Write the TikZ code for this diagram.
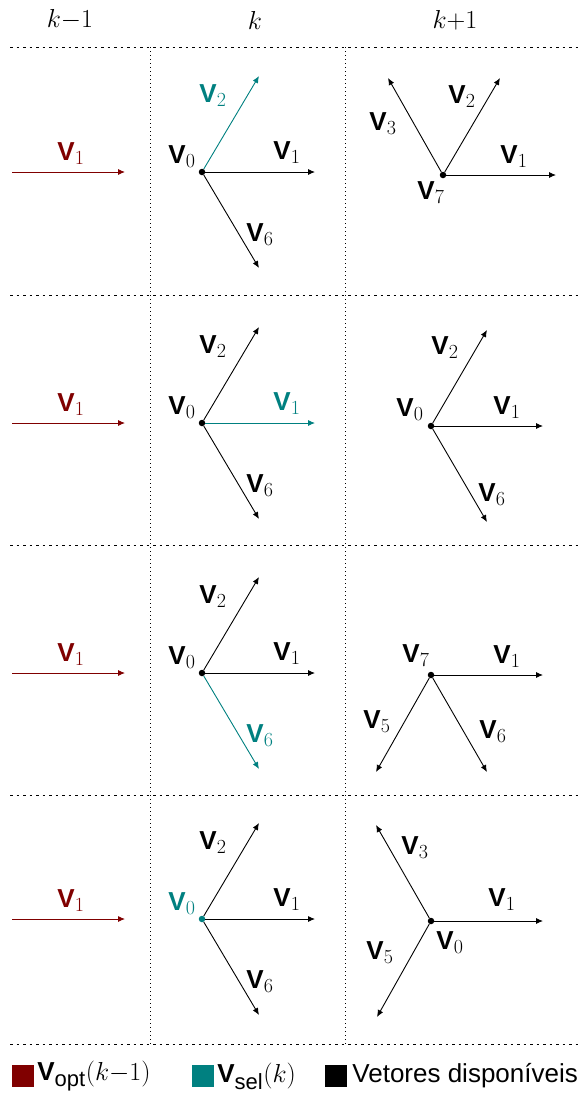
\RequirePackage{fix-cm}
\documentclass[tikz,border=0pt]{standalone}
\usepackage{amsmath}
\usepackage{fontspec}
\setsansfont{Liberation Sans}
\usepackage{tikz}
\usetikzlibrary{arrows.meta,positioning}

\DeclareMathSizes{26}{26}{20}{15}
\definecolor{optred}{HTML}{800000}
\definecolor{selteal}{HTML}{008080}
\newcommand{\vv}[1]{$\textsf{\bfseries V}_{#1}$}
\newcommand{\lsub}[1]{\text{\fontsize{22}{24}\selectfont\sffamily #1}}

\begin{document}
\begin{tikzpicture}[
    x=1pt, y=-1pt,
    every node/.style={font=\fontsize{26}{30}\selectfont},
    arr/.style={-{Latex[length=7pt,width=6pt]}, line width=0.9pt},
    lbl/.style={inner sep=0pt, anchor=center},
    dot/.style={circle, fill, inner sep=0pt, minimum size=6.5pt},
    hsep/.style={line width=0.8pt, dash pattern=on 2.5pt off 4pt},
    vsep/.style={line width=0.8pt, dash pattern=on 1.2pt off 2.8pt},
    sq/.style={fill, inner sep=0pt, minimum size=22pt}
]
\useasboundingbox (0,0) rectangle (580,1095);

% column headers
\node (hprev) at (70,20) {$k{-}1$};
\node (hcur) at (255,20) {$k$};
\node (hnext) at (455,20) {$k{+}1$};

% grid
\foreach \y in {47,295,545,795,1044}
  \draw[hsep] (10,\y) -- (578,\y);
\foreach \x in {150,345}
  \draw[vsep] (\x,47) -- (\x,1044);

% column k-1: optimal vector
\foreach \r/\y in {1/172,2/423,3/673,4/919} {
  \coordinate (p\r) at (12,\y);
  \coordinate (q\r) at (125,\y);
  \draw[arr, optred] (p\r) -- (q\r);
  \node[lbl, optred] (lp\r) at (71,\y-18) {\vv{1}};
}

% column k: available vectors, selected one in teal
\foreach \r/\y/\cz/\ca/\cb/\cf in {1/172/black/black/selteal/black,
    2/423/black/selteal/black/black, 3/673/black/black/black/selteal,
    4/919/selteal/black/black/black} {
  \node[dot, \cz] (m\r) at (202,\y) {};
  \coordinate (ma\r) at (315,\y);
  \coordinate (mb\r) at (259,\y-96);
  \coordinate (mf\r) at (259,\y+96);
  \draw[arr, \ca] (m\r) -- (ma\r);
  \draw[arr, \cb] (m\r) -- (mb\r);
  \draw[arr, \cf] (m\r) -- (mf\r);
  \node[lbl, \cz] at (182,\y-15) {\vv{0}};
  \node[lbl, \ca] at (287,\y-19) {\vv{1}};
  \node[lbl, \cb] at (213,\y-76) {\vv{2}};
  \node[lbl, \cf] at (260,\y+63) {\vv{6}};
}

% column k+1, row 1
\node[dot] (n1) at (443,175) {};
\coordinate (n1a) at (556,175);
\coordinate (n1b) at (500,78);
\coordinate (n1c) at (388,78);
\draw[arr] (n1) -- (n1a);
\draw[arr] (n1) -- (n1b);
\draw[arr] (n1) -- (n1c);
\node[lbl] at (383,124) {\vv{3}};
\node[lbl] at (462,97) {\vv{2}};
\node[lbl] at (514,157) {\vv{1}};
\node[lbl] at (431,193) {\vv{7}};

% column k+1, row 2
\node[dot] (n2) at (431,426) {};
\coordinate (n2a) at (543,426);
\coordinate (n2b) at (487,330);
\coordinate (n2f) at (487,522);
\draw[arr] (n2) -- (n2a);
\draw[arr] (n2) -- (n2b);
\draw[arr] (n2) -- (n2f);
\node[lbl] at (445,348) {\vv{2}};
\node[lbl] at (410,410) {\vv{0}};
\node[lbl] at (507,408) {\vv{1}};
\node[lbl] at (492,495) {\vv{6}};

% column k+1, row 3
\node[dot] (n3) at (431,675) {};
\coordinate (n3a) at (543,675);
\coordinate (n3e) at (376,772);
\coordinate (n3f) at (487,772);
\draw[arr] (n3) -- (n3a);
\draw[arr] (n3) -- (n3e);
\draw[arr] (n3) -- (n3f);
\node[lbl] at (416,656) {\vv{7}};
\node[lbl] at (507,657) {\vv{1}};
\node[lbl] at (377,722) {\vv{5}};
\node[lbl] at (493,732) {\vv{6}};

% column k+1, row 4
\node[dot] (n4) at (431,921) {};
\coordinate (n4a) at (543,921);
\coordinate (n4c) at (376,825);
\coordinate (n4e) at (377,1017);
\draw[arr] (n4) -- (n4a);
\draw[arr] (n4) -- (n4c);
\draw[arr] (n4) -- (n4e);
\node[lbl] at (415,848) {\vv{3}};
\node[lbl] at (502,900) {\vv{1}};
\node[lbl] at (450,943) {\vv{0}};
\node[lbl] at (380,953) {\vv{5}};

% legend
\node[sq, optred] (kopt) at (23,1076) {};
\node[right=3pt of kopt, inner sep=0pt] (topt) {\vv{\lsub{opt}}$(k{-}1)$};
\node[sq, selteal] (ksel) at (203,1076) {};
\node[right=3pt of ksel, inner sep=0pt] (tsel) {\vv{\lsub{sel}}$(k)$};
\node[sq, black] (kavl) at (336,1076) {};
\node[right=5pt of kavl, inner sep=0pt] (tavl) {\textsf{Vetores disponíveis}};
\end{tikzpicture}
\end{document}
